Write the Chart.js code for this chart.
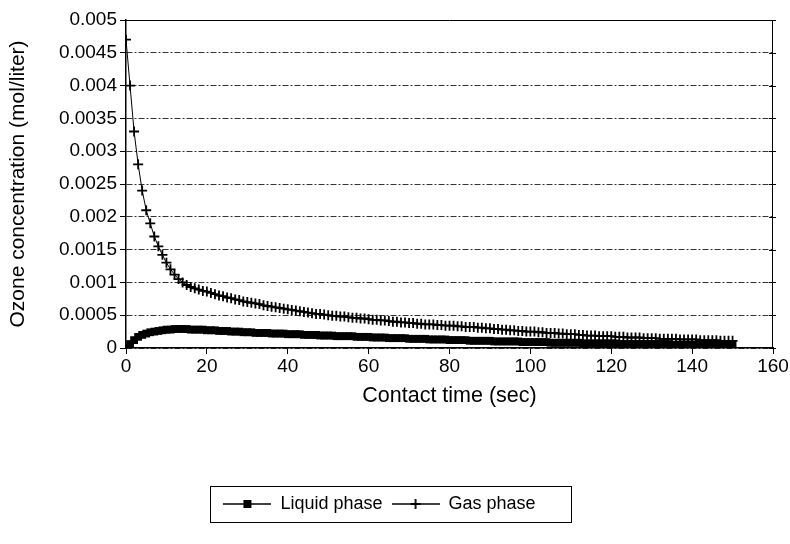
<!DOCTYPE html>
<html>
<head>
<meta charset="utf-8">
<script src="https://cdn.jsdelivr.net/npm/chart.js@4.4.1/dist/chart.umd.min.js"></script>
<style>
  html, body { margin: 0; padding: 0; background: #fff; }
  #wrap { width: 790px; height: 544px; }
</style>
</head>
<body>
<div id="wrap"><canvas id="chart" width="790" height="544"></canvas></div>
<script>
// contact time, one reading per second
const time = Array.from({ length: 151 }, (_, i) => i);

const gasPhase = [
  0.0047, 0.0040, 0.0033, 0.0028, 0.0024, 0.0021, 0.0019, 0.0017, 0.00155, 0.00142,
  0.00130, 0.00120, 0.00112, 0.00105, 0.00100, 0.00096, 0.00093, 0.00091, 0.00089, 0.00087,
  0.00086, 0.00084, 0.00082, 0.00080, 0.00079, 0.00077, 0.00076, 0.00074, 0.00073, 0.00071,
  0.00070, 0.00069, 0.00068, 0.00067, 0.00065, 0.00064, 0.00063, 0.00062, 0.00061, 0.00060,
  0.00059, 0.00058, 0.00057, 0.00056, 0.00055, 0.00054, 0.00053, 0.00052, 0.00052, 0.00051,
  0.00050, 0.00049, 0.00049, 0.00048, 0.00048, 0.00047, 0.00046, 0.00046, 0.00045, 0.00045,
  0.00044, 0.00043, 0.00043, 0.00042, 0.00042, 0.00041, 0.00040, 0.00040, 0.00039, 0.00039,
  0.00038, 0.00038, 0.00037, 0.00037, 0.00036, 0.00036, 0.00036, 0.00035, 0.00035, 0.00034,
  0.00034, 0.00034, 0.00033, 0.00033, 0.00032, 0.00032, 0.00032, 0.00031, 0.00031, 0.00030,
  0.00030, 0.00029, 0.00029, 0.00028, 0.00028, 0.00027, 0.00027, 0.00026, 0.00026, 0.00025,
  0.00025, 0.00025, 0.00024, 0.00024, 0.00023, 0.00023, 0.00023, 0.00022, 0.00022, 0.00021,
  0.00021, 0.00021, 0.00020, 0.00020, 0.00019, 0.00019, 0.00019, 0.00018, 0.00018, 0.00018,
  0.00018, 0.00017, 0.00017, 0.00017, 0.00016, 0.00016, 0.00016, 0.00016, 0.00015, 0.00015,
  0.00015, 0.00015, 0.00014, 0.00014, 0.00014, 0.00014, 0.00014, 0.00013, 0.00013, 0.00013,
  0.00013, 0.00013, 0.00012, 0.00012, 0.00012, 0.00012, 0.00012, 0.00011, 0.00011, 0.00011,
  0.00011
];

const liquidPhase = [
  0, 0.00006, 0.00012, 0.00017, 0.00020, 0.00022, 0.00024, 0.00025, 0.00026, 0.00027,
  0.00028, 0.00028, 0.00029, 0.00029, 0.00029, 0.00029, 0.00028, 0.00028, 0.00028, 0.00028,
  0.00027, 0.00027, 0.00027, 0.00026, 0.00026, 0.00026, 0.00025, 0.00025, 0.00025, 0.00024,
  0.00024, 0.00024, 0.00023, 0.00023, 0.00023, 0.00023, 0.00022, 0.00022, 0.00022, 0.00022,
  0.00021, 0.00021, 0.00021, 0.00021, 0.00020, 0.00020, 0.00020, 0.00020, 0.00019, 0.00019,
  0.00019, 0.00019, 0.00018, 0.00018, 0.00018, 0.00018, 0.00018, 0.00017, 0.00017, 0.00017,
  0.00017, 0.00016, 0.00016, 0.00016, 0.00016, 0.00015, 0.00015, 0.00015, 0.00015, 0.00015,
  0.00014, 0.00014, 0.00014, 0.00014, 0.00014, 0.00013, 0.00013, 0.00013, 0.00013, 0.00013,
  0.00012, 0.00012, 0.00012, 0.00012, 0.00012, 0.00011, 0.00011, 0.00011, 0.00011, 0.00011,
  0.00011, 0.00010, 0.00010, 0.00010, 0.00010, 0.00010, 0.00010, 0.00010, 0.00009, 0.00009,
  0.00009, 0.00009, 0.00009, 0.00009, 0.00009, 0.00008, 0.00008, 0.00008, 0.00008, 0.00008,
  0.00008, 0.00008, 0.00008, 0.00007, 0.00007, 0.00007, 0.00007, 0.00007, 0.00007, 0.00007,
  0.00007, 0.00007, 0.00006, 0.00006, 0.00006, 0.00006, 0.00006, 0.00006, 0.00006, 0.00006,
  0.00006, 0.00006, 0.00006, 0.00006, 0.00006, 0.00005, 0.00005, 0.00005, 0.00005, 0.00005,
  0.00005, 0.00005, 0.00005, 0.00005, 0.00005, 0.00005, 0.00005, 0.00005, 0.00005, 0.00005,
  0.00005
];

const seriesNames = ['Liquid phase', 'Gas phase'];
const xTicks = [0, 20, 40, 60, 80, 100, 120, 140, 160];
const yTicks = [0, 0.0005, 0.001, 0.0015, 0.002, 0.0025, 0.003, 0.0035, 0.004, 0.0045, 0.005];

const FONT = "'Liberation Sans', Arial, sans-serif";
const LEGEND_SHIFT = 7;

// little line+marker samples for the legend
function legendSample(kind) {
    const c = document.createElement('canvas');
    c.width = 48; c.height = 14;
    const g = c.getContext('2d');
    g.strokeStyle = '#000';
    g.lineWidth = 1.5;
    g.beginPath(); g.moveTo(0, 7); g.lineTo(48, 7); g.stroke();
    if (kind === 'square') {
        g.fillStyle = '#000';
        g.fillRect(20, 3, 8, 8);
    } else {
        g.beginPath();
        g.moveTo(19, 7); g.lineTo(29, 7);
        g.moveTo(24, 2); g.lineTo(24, 12);
        g.lineWidth = 1.8;
        g.stroke();
    }
    return c;
}

const framePlugin = {
    id: 'frame',
    beforeDraw(chart) {
        // nudge the legend a little to the left, like the original
        chart.legend.left -= LEGEND_SHIFT;
        chart.legend.right -= LEGEND_SHIFT;
    },
    afterDraw(chart) {
        const ctx = chart.ctx;
        const a = chart.chartArea;
        const y = chart.scales.y;
        ctx.save();
        ctx.strokeStyle = '#000';
        ctx.lineWidth = 1;
        ctx.beginPath();
        ctx.moveTo(a.left, a.top + 0.5); ctx.lineTo(a.right, a.top + 0.5);
        ctx.moveTo(a.right - 0.5, a.top); ctx.lineTo(a.right - 0.5, a.bottom);
        yTicks.forEach(v => {
            const py = Math.round(y.getPixelForValue(v)) + 0.5;
            ctx.moveTo(a.right - 4, py); ctx.lineTo(a.right + 3, py);
        });
        ctx.stroke();
        // box round the legend
        const boxes = chart.legend.legendHitBoxes;
        if (boxes && boxes.length) {
            const first = boxes[0], last = boxes[boxes.length - 1];
            const l = first.left - 13 - LEGEND_SHIFT;
            const r = last.left + last.width + 36 - LEGEND_SHIFT;
            ctx.strokeRect(Math.round(l) + 0.5, chart.legend.top + 0.5, Math.round(r - l), chart.legend.height - 1);
        }
        ctx.restore();
    }
};

const ctx = document.getElementById('chart').getContext('2d');

const data = {
    datasets: [
        {
            label: seriesNames[0],
            data: time.map((t, i) => ({ x: t, y: liquidPhase[i] })),
            borderColor: '#000',
            backgroundColor: '#000',
            borderWidth: 1.5,
            pointStyle: 'rect',
            pointRadius: 5.5,
            pointBorderWidth: 0,
            pointBackgroundColor: '#000',
            legendImg: legendSample('square')
        },
        {
            label: seriesNames[1],
            data: time.map((t, i) => ({ x: t, y: gasPhase[i] })),
            borderColor: '#000',
            backgroundColor: '#000',
            borderWidth: 1,
            pointStyle: 'cross',
            pointRadius: 5,
            pointBorderWidth: 1.8,
            pointBorderColor: '#000',
            legendImg: legendSample('cross')
        }
    ]
};

const config = {
    type: 'line',
    data: data,
    options: {
        responsive: false,
        animation: false,
        layout: { padding: { top: 20, right: 17, bottom: 21, left: 0 } },
        scales: {
            x: {
                type: 'linear',
                min: 0,
                max: 160,
                afterBuildTicks: s => { s.ticks = xTicks.map(v => ({ value: v })); },
                afterFit: s => { s.height = 138; },
                ticks: { color: '#000', font: { family: FONT, size: 19 }, padding: 1 },
                grid: { drawOnChartArea: false, drawTicks: true, tickLength: 6, color: '#000' },
                border: { color: '#000', width: 1.5 },
                title: {
                    display: true,
                    text: 'Contact time (sec)',
                    color: '#000',
                    font: { family: FONT, size: 21.5 },
                    padding: { top: 0, bottom: 77 }
                }
            },
            y: {
                min: 0,
                max: 0.005,
                afterBuildTicks: s => { s.ticks = yTicks.map(v => ({ value: v })); },
                afterFit: s => { s.width = 126; },
                ticks: {
                    color: '#000',
                    font: { family: FONT, size: 19 },
                    padding: 3,
                    callback: v => v === 0 ? '0' : String(+v.toFixed(4))
                },
                grid: { color: '#333', lineWidth: 1, tickLength: 6, tickColor: '#000', tickBorderDash: [] },
                border: { color: '#000', width: 1.5, dash: [6, 2, 2, 2] },
                title: {
                    display: true,
                    text: 'Ozone concentration (mol/liter)',
                    color: '#000',
                    font: { family: FONT, size: 21 },
                    padding: { top: 6, bottom: 0 }
                }
            }
        },
        plugins: {
            legend: {
                display: true,
                position: 'bottom',
                labels: {
                    color: '#000',
                    font: { family: FONT, size: 18 },
                    padding: 9,
                    usePointStyle: true,
                    pointStyleWidth: 48,
                    generateLabels: chart => chart.data.datasets.map((d, i) => ({
                        text: d.label,
                        pointStyle: d.legendImg,
                        fillStyle: '#000',
                        strokeStyle: '#000',
                        lineWidth: 0,
                        fontColor: '#000',
                        datasetIndex: i
                    }))
                }
            },
            tooltip: { enabled: false }
        }
    },
    plugins: [framePlugin]
};

const myChart = new Chart(ctx, config);
</script>
</body>
</html>
